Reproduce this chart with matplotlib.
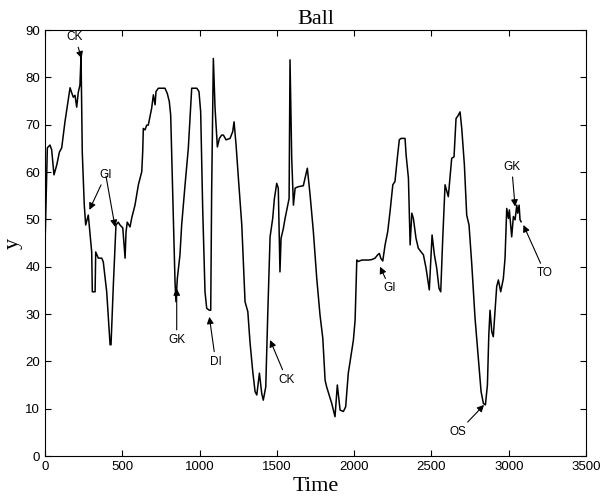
import matplotlib
matplotlib.use('Agg')
import matplotlib.pyplot as plt

# ball trace
time = [0, 15, 32, 43, 58, 76, 93, 108, 129, 162, 173, 183, 194, 205, 215,
        226, 233, 241, 254, 263, 280, 302, 306, 324, 328, 345, 367, 377, 399,
        421, 427, 442, 459, 474, 485, 503, 518, 524, 532, 550, 561, 582, 604,
        626, 632, 636, 647, 658, 668, 690, 701, 712, 718, 733, 776, 791, 804,
        813, 826, 841, 847, 856, 873, 884, 906, 927, 949, 982, 996, 1007,
        1020, 1035, 1046, 1063, 1072, 1078, 1089, 1100, 1115, 1128, 1143,
        1154, 1171, 1197, 1214, 1223, 1236, 1251, 1273, 1294, 1312, 1326,
        1344, 1359, 1370, 1387, 1402, 1412, 1428, 1441, 1456, 1473, 1484,
        1499, 1509, 1520, 1527, 1542, 1553, 1564, 1574, 1579, 1585, 1596,
        1607, 1618, 1639, 1671, 1687, 1697, 1715, 1736, 1758, 1779, 1797,
        1812, 1822, 1855, 1876, 1891, 1909, 1930, 1945, 1962, 1995, 2006,
        2017, 2027, 2049, 2070, 2092, 2114, 2135, 2152, 2163, 2172, 2185,
        2200, 2217, 2232, 2250, 2264, 2279, 2292, 2303, 2329, 2336, 2351,
        2362, 2373, 2383, 2400, 2415, 2431, 2448, 2465, 2486, 2504, 2519,
        2534, 2549, 2560, 2573, 2588, 2609, 2631, 2646, 2659, 2674, 2685,
        2696, 2713, 2728, 2743, 2761, 2782, 2803, 2821, 2836, 2849, 2862,
        2871, 2879, 2890, 2900, 2922, 2933, 2948, 2965, 2976, 2987, 2998,
        3004, 3019, 3030, 3041, 3052, 3058, 3067, 3073, 3080]
ball_y = [44.5, 65.1, 65.7, 64.7, 59.4, 61.5, 64.2, 65.1, 70.6, 77.8, 76.7,
          75.8, 76.2, 73.7, 76.8, 78.4, 84.5, 64.2, 53.0, 48.8, 50.9, 43.1,
          34.7, 34.7, 43.1, 41.8, 41.8, 41.0, 34.7, 23.5, 23.5, 36.1, 48.8,
          49.4, 48.8, 48.2, 41.8, 47.3, 49.4, 48.4, 50.3, 53.0, 57.3, 60.1,
          64.3, 69.2, 68.9, 69.9, 69.9, 73.5, 76.3, 74.2, 77.0, 77.7, 77.7,
          76.6, 74.9, 72.0, 55.8, 36.8, 32.6, 37.5, 42.5, 48.8, 57.3, 65.0,
          77.7, 77.7, 77.0, 72.7, 52.3, 34.7, 31.2, 30.8, 30.8, 55.8, 84.0,
          73.5, 65.3, 67.1, 67.8, 67.8, 66.8, 67.1, 68.5, 70.6, 65.7, 58.7,
          48.8, 32.6, 30.5, 24.1, 17.8, 13.6, 12.9, 17.5, 13.2, 11.8, 14.6,
          30.0, 46.3, 50.2, 54.4, 57.6, 56.6, 38.9, 46.0, 48.1, 50.2, 52.0,
          53.7, 54.4, 83.7, 62.9, 53.0, 56.6, 56.9, 57.1, 59.4, 60.8, 55.1,
          47.4, 37.5, 29.8, 24.9, 16.0, 14.6, 11.1, 8.3, 15.0, 9.7, 9.4, 10.4,
          17.5, 24.5, 28.7, 41.4, 41.1, 41.4, 41.4, 41.4, 41.5, 41.8, 42.5,
          42.8, 41.8, 41.2, 44.6, 47.4, 51.6, 57.3, 58.0, 62.9, 66.8, 67.1,
          67.1, 63.6, 58.7, 44.6, 51.3, 50.2, 46.0, 43.9, 43.2, 42.5, 39.7,
          35.1, 46.7, 42.5, 39.7, 35.4, 34.7, 46.0, 57.3, 54.8, 62.9, 63.2,
          71.3, 72.0, 72.7, 69.2, 61.5, 50.9, 48.8, 40.4, 29.1, 20.6, 13.6,
          11.1, 10.8, 15.0, 25.6, 30.8, 26.3, 25.2, 35.8, 37.2, 34.7, 37.5,
          41.8, 52.3, 50.2, 52.0, 46.3, 50.6, 49.9, 53.0, 51.3, 53.0, 49.9,
          49.5]

# event labels: (text, text pos, arrow tip)
event_names = ['CK', 'GI', 'GI', 'GK', 'DI', 'CK', 'GI', 'OS', 'GK', 'TO']
text_xy = [(194, 88.5), (393, 59.4), (393, 59.4), (852, 24.5), (1104, 19.9),
           (1564, 16.1), (2232, 35.4), (2674, 5.1), (3019, 61.1), (3235, 38.6)]
tip_xy = [(237, 84.0), (287, 52.0), (453, 48.4), (852, 35.4), (1063, 29.4),
          (1456, 24.5), (2167, 40.0), (2840, 10.8), (3041, 52.7), (3095, 48.8)]

fig = plt.figure(figsize=(6.01, 5.01), dpi=100)
ax = fig.add_axes([0.0749, 0.0898, 0.9002, 0.8503])

ax.plot(time, ball_y, color='black', lw=1.1)

for i, name in enumerate(event_names):
    # second GI shares its label with the first one
    label = '' if i == 2 else name
    ax.annotate(label, xy=tip_xy[i], xytext=text_xy[i],
                ha='center', va='center', fontsize=8.5,
                family='Liberation Sans',
                arrowprops=dict(arrowstyle='-|>', color='black', lw=0.8,
                                mutation_scale=10, shrinkA=1, shrinkB=0))

ax.set_xlim(0, 3500)
ax.set_ylim(0, 90)
ax.set_xticks(range(0, 3501, 500))
ax.set_yticks(range(0, 91, 10))
ax.tick_params(direction='in', top=True, right=True, length=4,
               labelsize=9.5, width=0.8)
for lab in ax.get_xticklabels() + ax.get_yticklabels():
    lab.set_family('Liberation Sans')
for sp in ax.spines.values():
    sp.set_linewidth(0.8)

ax.set_title('Ball', fontsize=16, family='Liberation Serif', pad=4)
ax.set_xlabel('Time', fontsize=16, family='Liberation Serif', labelpad=3)
ax.set_ylabel('y', fontsize=16, family='Liberation Serif', labelpad=2)

fig.savefig('out.png', dpi=100)
